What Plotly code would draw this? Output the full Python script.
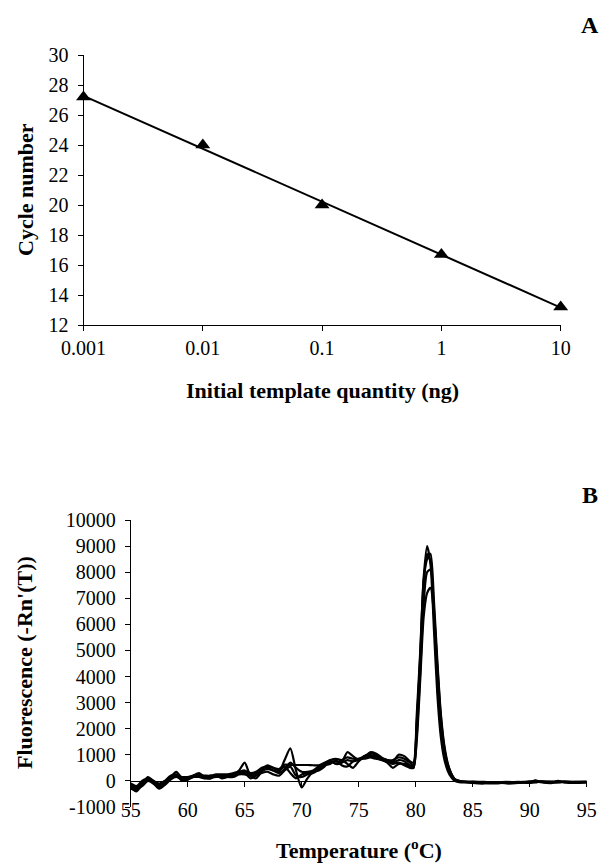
import numpy as np
import plotly.graph_objects as go

# ---------------- Panel A data ----------------
quantity_ng = [0.001, 0.01, 0.1, 1, 10]
cycle_number = [27.2, 24.0, 20.0, 16.7, 13.2]
qty_tick_text = ["0.001", "0.01", "0.1", "1", "10"]

# ---------------- Panel B data ----------------
temperature = [55, 55.5, 56, 56.5, 57, 57.5, 58, 58.5, 59, 59.5, 60, 60.5, 61, 61.5, 62, 62.5,
               63, 63.5, 64, 64.5, 65, 65.5, 66, 66.5, 67, 67.5, 68, 68.5, 69, 69.5, 70, 70.5,
               71, 71.5, 72, 72.5, 73, 73.5, 74, 74.5, 75, 75.5, 76, 76.5, 77, 77.5, 78, 78.5,
               79, 79.5, 79.8, 80.1, 80.4, 80.7, 81.0, 81.3, 81.6, 81.9, 82.2, 82.5, 82.8, 83.1,
               83.4, 83.8, 84.5, 85, 86, 87, 88, 89, 90, 90.5, 91, 92, 92.5, 93, 94, 95]

melt_a = [-250, -400, -150, 150, 0, -250, -100, 150, 350, 100, 50, 200, 300, 150, 100, 200,
          150, 200, 250, 400, 700, 200, 100, 350, 500, 400, 350, 800, 1250, 400, -250, 100,
          350, 500, 600, 800, 650, 700, 1100, 950, 800, 900, 1100, 1050, 900, 800, 750, 1000,
          950, 750, 700, 2600, 5000, 7800, 9000, 8300, 5800, 3300, 1700, 850, 400, 150,
          0, -50, -50, -80, -100, -60, -100, -80, -30, 0, -50, -80, -20, -60, -80, -60]
melt_b = [-150, -250, -50, 50, -50, -150, -50, 100, 200, 100, 100, 150, 200, 150, 150, 150,
          200, 200, 200, 300, 350, 250, 250, 400, 450, 400, 300, 450, 700, 500, 350, 350,
          400, 550, 650, 700, 750, 700, 800, 750, 800, 900, 950, 950, 850, 800, 700, 800,
          750, 600, 550, 2200, 4600, 7500, 8700, 8400, 6300, 3800, 2000, 1000, 500, 200,
          30, -30, -60, -50, -80, -100, -60, -50, -80, -40, -30, -60, -50, -40, -60, -50]
melt_c = [-200, -300, -200, 0, -100, -300, -150, 50, 150, 50, 100, 200, 250, 100, 100, 200,
          100, 150, 250, 300, 300, 100, 200, 300, 350, 250, 200, 400, 550, 200, 150, 250,
          300, 450, 600, 650, 800, 600, 550, 750, 850, 850, 900, 850, 800, 700, 500, 650,
          650, 550, 500, 1800, 4200, 6800, 8000, 8100, 6600, 4200, 2300, 1200, 600, 250,
          60, -20, -40, -60, -70, -80, -70, -40, -60, 20, -40, -50, 0, -50, -40, -40]
melt_d = [-300, -350, -100, 100, -100, -200, 0, 200, 250, 0, 50, 150, 150, 100, 200, 150,
          200, 150, 150, 250, 250, 200, 300, 450, 600, 500, 400, 550, 300, 100, 250, 300,
          350, 400, 550, 750, 650, 800, 650, 500, 750, 950, 1000, 900, 800, 750, 650, 700,
          600, 500, 500, 1600, 3900, 6300, 7200, 7400, 6400, 4400, 2500, 1300, 650, 300,
          80, 0, -50, -40, -60, -70, -60, -70, -40, -60, -20, -40, -60, -30, -50, -50]
melt_e = [-100, -200, 0, 100, 0, -100, 0, 100, 200, 150, 150, 200, 200, 200, 200, 250,
          250, 250, 300, 350, 400, 300, 350, 500, 550, 500, 450, 620, 610, 610, 610, 610,
          600, 600, 700, 800, 850, 800, 900, 850, 850, 950, 1050, 1000, 850, 800, 800, 900,
          850, 700, 600, 2300, 4800, 7700, 8500, 8700, 6900, 4600, 2600, 1400, 700, 300,
          80, 0, -30, -30, -40, -50, -40, -50, -30, -10, -30, -30, -20, -30, -40, -30]
melt_curves = [melt_a, melt_b, melt_c, melt_d, melt_e]

temp_ticks = [55, 60, 65, 70, 75, 80, 85, 90, 95]
fluor_ticks = [-1000, 0, 1000, 2000, 3000, 4000, 5000, 6000, 7000, 8000, 9000, 10000]
fluor_range = [-1000, 10000]
temp_range = [55, 95]

FONT = "Liberation Serif"
W, H = 601, 863


def px(x):
    return x / W


def py(y):
    return (H - y) / H


fig = go.Figure()

# Panel A: points + linear trendline on log10(quantity)
logq = np.log10(quantity_ng)
slope, intercept = np.polyfit(logq, cycle_number, 1)
trend_x = [quantity_ng[0], quantity_ng[-1]]
trend_y = [slope * np.log10(v) + intercept for v in trend_x]
fig.add_trace(go.Scatter(x=trend_x, y=trend_y, mode="lines",
                         line=dict(color="black", width=2), xaxis="x", yaxis="y",
                         showlegend=False, cliponaxis=False))
fig.add_trace(go.Scatter(x=quantity_ng, y=cycle_number, mode="markers",
                         marker=dict(symbol="triangle-up", size=13, color="black"),
                         xaxis="x", yaxis="y", showlegend=False, cliponaxis=False))

# Panel B: melt curves
for c in melt_curves:
    fig.add_trace(go.Scatter(x=temperature, y=c, mode="lines",
                             line=dict(color="black", width=2.2, shape="spline", smoothing=0.7),
                             xaxis="x2", yaxis="y2", showlegend=False))
# helper trace so the zero-line axis is drawn
fig.add_trace(go.Scatter(x=[], y=[], xaxis="x3", yaxis="y2", showlegend=False))

# domains (paper fractions)
xa_dom = [px(83.5), px(560.7)]
ya_dom = [py(325), py(55)]
xb_dom = [px(130.7), px(586.7)]
yb_dom = [py(807), py(520)]
zero_pos = yb_dom[0] + (yb_dom[1] - yb_dom[0]) * (0 - fluor_range[0]) / (fluor_range[1] - fluor_range[0])
label_pos = py(796)

tickfont = dict(family=FONT, size=20, color="black")
axis_common = dict(showgrid=False, zeroline=False, showline=True, linecolor="black",
                   linewidth=1, ticks="outside", ticklen=5, tickcolor="black", tickfont=tickfont,
                   automargin=False)


def label(text, x, y, size=22, angle=0):
    return dict(text=text, x=px(x), y=py(y), xref="paper", yref="paper",
                xanchor="center", yanchor="middle", showarrow=False, textangle=angle,
                font=dict(family=FONT, size=size, color="black"))


fig.update_layout(
    template="none",
    width=W, height=H,
    margin=dict(l=0, r=0, t=0, b=0),
    paper_bgcolor="white", plot_bgcolor="white",
    font=dict(family=FONT, color="black"),
    xaxis=dict(domain=xa_dom, anchor="y", type="log", range=[-3, 1],
               tickvals=quantity_ng, ticktext=qty_tick_text, **axis_common),
    yaxis=dict(domain=ya_dom, anchor="x", range=[12, 30], dtick=2, tick0=12,
               ticklabelstandoff=5, **axis_common),
    xaxis2=dict(domain=xb_dom, anchor="free", position=label_pos, range=temp_range,
                tickvals=temp_ticks, showgrid=False, zeroline=False, showline=False,
                ticks="", tickfont=tickfont, automargin=False),
    xaxis3=dict(domain=xb_dom, overlaying="x2", anchor="free", position=zero_pos,
                range=temp_range, tickvals=temp_ticks, showticklabels=False,
                showgrid=False, zeroline=False, showline=True, linecolor="black", linewidth=1,
                ticks="outside", ticklen=5, tickcolor="black", automargin=False),
    yaxis2=dict(domain=yb_dom, anchor="x2", range=fluor_range, ticklabelstandoff=5,
                tickvals=fluor_ticks, ticktext=[str(v) for v in fluor_ticks], **axis_common),
    annotations=[
        label("<b>A</b>", 590, 25, size=24),
        label("<b>B</b>", 590, 495, size=24),
        label("<b>Initial template quantity (ng)</b>", 322, 390),
        label("<b>Cycle number</b>", 25, 190, angle=-90),
        label("<b>Temperature (<sup>o</sup>C)</b>", 358.5, 849),
        label("<b>Fluorescence (-Rn'(T))</b>", 24, 663, angle=-90),
    ],
)

fig.write_html(
    "out.html",
    config={"displayModeBar": False},
    post_script="document.body.style.margin='0';document.documentElement.style.overflow='hidden';",
)
